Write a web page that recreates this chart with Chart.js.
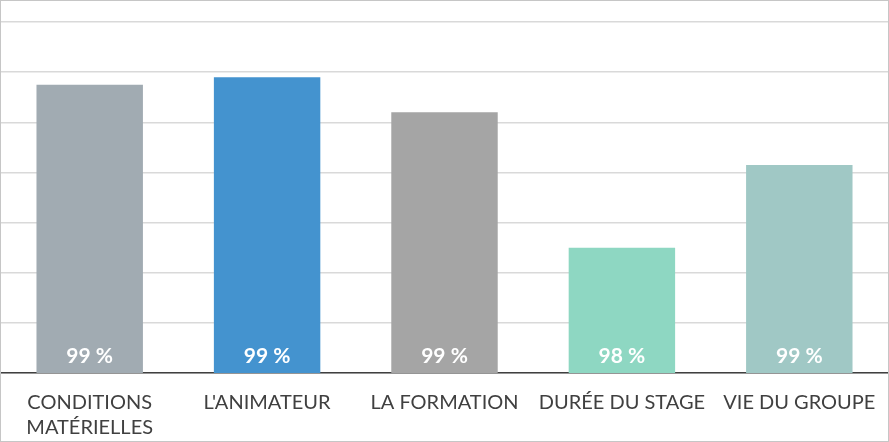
<!DOCTYPE html>
<html>
<head>
<meta charset="utf-8">
<script src="https://cdn.jsdelivr.net/npm/chart.js@4/dist/chart.umd.min.js"></script>
<style>
html,body{margin:0;padding:0;background:#fff;}
#wrap{position:absolute;left:0;top:0;width:887px;height:440px;border:1px solid #c6c6c6;background:#fff;}
canvas{display:block;}
</style>
</head>
<body>
<div id="wrap"><canvas id="c" width="887" height="440"></canvas></div>
<script>
const categories = [["CONDITIONS","MATÉRIELLES"], "L'ANIMATEUR", "LA FORMATION", "DURÉE DU STAGE", "VIE DU GROUPE"];
const values = [99.15, 99.18, 99.04, 98.50, 98.83];
const valueLabels = ["99 %", "99 %", "99 %", "98 %", "99 %"];
const barColors = ["#A1ABB2", "#4493CF", "#A5A5A5", "#8ED7C2", "#A0C8C5"];

const labelPlugin = {
  id: 'valueLabels',
  afterDatasetsDraw(chart) {
    const ctx = chart.ctx;
    const meta = chart.getDatasetMeta(0);
    ctx.save();
    ctx.fillStyle = '#ffffff';
    ctx.font = 'bold 21px Lato, "Open Sans", sans-serif';
    ctx.textAlign = 'center';
    ctx.textBaseline = 'middle';
    meta.data.forEach((bar, i) => {
      ctx.fillText(valueLabels[i], bar.x, chart.chartArea.bottom - 17);
    });
    ctx.restore();
  }
};

new Chart(document.getElementById('c'), {
  type: 'bar',
  data: {
    labels: categories,
    datasets: [{
      data: values,
      backgroundColor: barColors,
      borderWidth: 0,
      categoryPercentage: 0.6,
      barPercentage: 1.0
    }]
  },
  options: {
    responsive: false,
    animation: false,
    layout: { padding: { top: 21, left: 0, right: 0, bottom: 0 } },
    plugins: { legend: { display: false }, tooltip: { enabled: false } },
    scales: {
      x: {
        afterFit(scale) { scale.height = 68; scale.paddingLeft = 0; scale.paddingRight = 0; },
        grid: { display: false, drawTicks: false },
        border: { display: true, color: '#404040', width: 1.5 },
        ticks: {
          color: '#404040',
          font: { family: 'Lato, "Open Sans", sans-serif', size: 20, lineHeight: 1.25 },
          padding: 17,
          maxRotation: 0,
          autoSkip: false
        }
      },
      y: {
        min: 98,
        max: 99.4,
        ticks: { display: false, stepSize: 0.2 },
        grid: { color: '#d9d9d9', lineWidth: 1.5, drawTicks: false },
        border: { display: false }
      }
    }
  },
  plugins: [labelPlugin]
});
</script>
</body>
</html>
